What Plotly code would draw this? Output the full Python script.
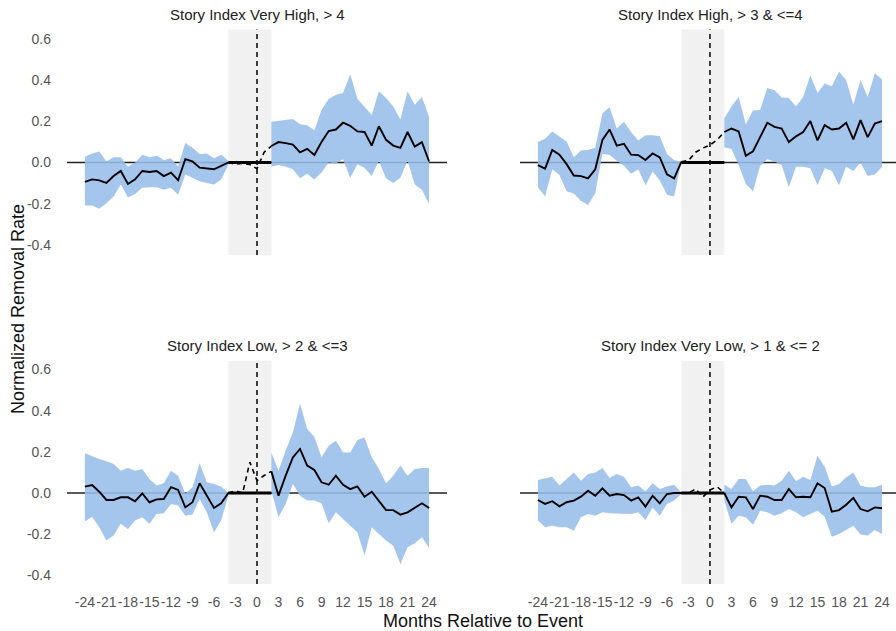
import plotly.graph_objects as go

# ---------------- data ----------------
months_pre = list(range(-24, -3))     # -24 .. -4
months_window = list(range(-4, 3))    # -4 .. 2
months_post = list(range(2, 25))      # 2 .. 24
tick_vals_x = list(range(-24, 25, 3))
tick_text_x = [str(v) for v in tick_vals_x]
tick_vals_y = [-0.4, -0.2, 0.0, 0.2, 0.4, 0.6]
tick_text_y = ["-0.4", "-0.2", "0.0", "0.2", "0.4", "0.6"]

titles = ["Story Index Very High, > 4", "Story Index High, > 3 & <=4",
          "Story Index Low, > 2 & <=3", "Story Index Very Low, > 1 & <= 2"]

# Panel 1: Very High
vh_est_pre = [-0.094, -0.082, -0.087, -0.099, -0.066, -0.041, -0.104, -0.082, -0.041, -0.046, -0.041,
              -0.066, -0.049, -0.086, 0.016, 0.005, -0.025, -0.030, -0.033, -0.016, 0.0]
vh_hi_pre = [0.028, 0.044, 0.054, 0.005, 0.025, 0.025, -0.021, 0.0, 0.038, 0.025, 0.033,
             0.012, 0.021, -0.021, 0.095, 0.071, 0.041, 0.044, 0.021, 0.038, 0.008]
vh_lo_pre = [-0.209, -0.209, -0.225, -0.198, -0.165, -0.107, -0.170, -0.153, -0.123, -0.120, -0.120,
             -0.132, -0.123, -0.156, -0.058, -0.074, -0.091, -0.099, -0.107, -0.082, -0.012]
vh_est_win = [0.0, -0.008, -0.005, -0.01, -0.03, 0.05, 0.08]
vh_est_post = [0.080, 0.099, 0.094, 0.087, 0.049, 0.066, 0.036, 0.099, 0.153, 0.160, 0.193, 0.178,
               0.151, 0.148, 0.082, 0.176, 0.110, 0.082, 0.071, 0.148, 0.077, 0.099, 0.005]
vh_hi_post = [0.198, 0.202, 0.206, 0.211, 0.186, 0.181, 0.156, 0.255, 0.308, 0.329, 0.337, 0.428,
              0.309, 0.272, 0.230, 0.346, 0.313, 0.272, 0.209, 0.346, 0.280, 0.318, 0.222]
vh_lo_post = [-0.021, -0.012, -0.021, -0.033, -0.077, -0.054, -0.082, -0.049, 0.0, -0.005, 0.016, -0.074,
              -0.008, -0.025, -0.066, 0.008, -0.077, -0.099, -0.074, 0.008, -0.107, -0.132, -0.202]

# Panel 2: High
h_est_pre = [-0.013, -0.030, 0.061, 0.038, -0.008, -0.063, -0.066, -0.077, -0.033, 0.110, 0.160,
             0.082, 0.091, 0.038, 0.036, 0.012, 0.044, 0.025, -0.058, -0.077, 0.003]
h_hi_pre = [0.099, 0.115, 0.151, 0.127, 0.102, 0.025, 0.058, 0.061, 0.071, 0.239, 0.268,
            0.165, 0.198, 0.148, 0.107, 0.132, 0.132, 0.127, 0.041, 0.012, 0.003]
h_lo_pre = [-0.120, -0.165, -0.033, -0.061, -0.140, -0.151, -0.186, -0.206, -0.148, 0.041, 0.036,
            0.008, -0.016, -0.054, -0.033, -0.110, -0.044, -0.087, -0.156, -0.165, 0.003]
h_est_win = [0.003, 0.01, 0.05, 0.07, 0.085, 0.11, 0.148]
h_est_post = [0.148, 0.165, 0.151, 0.033, 0.054, 0.123, 0.193, 0.173, 0.165, 0.099, 0.127, 0.148,
              0.201, 0.107, 0.181, 0.160, 0.165, 0.193, 0.112, 0.206, 0.123, 0.189, 0.201]
h_hi_post = [0.214, 0.272, 0.318, 0.186, 0.252, 0.255, 0.362, 0.351, 0.316, 0.313, 0.272, 0.318,
             0.423, 0.337, 0.383, 0.370, 0.440, 0.400, 0.280, 0.400, 0.318, 0.433, 0.403]
h_lo_post = [0.074, 0.066, -0.012, -0.104, -0.140, -0.016, 0.016, 0.005, -0.012, -0.120, -0.021, -0.021,
             -0.028, -0.110, -0.028, -0.041, -0.110, -0.021, -0.041, 0.0, -0.066, -0.058, -0.021]

# Panel 3: Low
l_est_pre = [0.031, 0.039, 0.006, -0.034, -0.034, -0.021, -0.021, -0.040, -0.002, -0.045, -0.031,
             -0.029, 0.028, 0.015, -0.070, -0.045, 0.047, -0.013, -0.073, -0.050, 0.0]
l_hi_pre = [0.193, 0.178, 0.165, 0.154, 0.141, 0.108, 0.121, 0.108, 0.117, 0.068, 0.036,
            0.047, 0.108, 0.084, -0.002, 0.028, 0.144, 0.052, 0.044, 0.031, 0.0]
l_lo_pre = [-0.138, -0.115, -0.167, -0.231, -0.207, -0.150, -0.175, -0.134, -0.118, -0.150, -0.102,
            -0.099, -0.053, -0.061, -0.110, -0.105, -0.029, -0.094, -0.191, -0.134, -0.013]
l_est_win = [0.0, 0.01, 0.0, 0.15, 0.06, 0.085, 0.105]
l_est_post = [0.105, -0.013, 0.084, 0.173, 0.214, 0.133, 0.112, 0.052, 0.040, 0.084, 0.040, 0.019,
              0.032, -0.018, 0.006, -0.040, -0.083, -0.083, -0.105, -0.094, -0.070, -0.050, -0.073]
l_hi_post = [0.197, 0.108, 0.206, 0.294, 0.435, 0.311, 0.273, 0.173, 0.230, 0.254, 0.197, 0.197,
             0.257, 0.270, 0.173, 0.117, 0.047, 0.084, 0.133, 0.084, 0.117, 0.121, 0.121]
l_lo_post = [0.011, -0.118, -0.053, 0.044, -0.013, -0.037, -0.037, -0.050, -0.147, -0.094, -0.126, -0.159,
             -0.191, -0.304, -0.167, -0.199, -0.231, -0.256, -0.345, -0.264, -0.244, -0.215, -0.267]

# Panel 4: Very Low
vl_est_pre = [-0.034, -0.053, -0.040, -0.065, -0.045, -0.037, -0.018, 0.011, -0.013, 0.023, -0.013,
              -0.005, -0.010, -0.037, -0.021, -0.066, -0.013, -0.050, -0.005, 0.0, 0.0]
vl_hi_pre = [0.063, 0.071, 0.079, 0.036, 0.068, 0.100, 0.060, 0.092, 0.100, 0.121, 0.073,
             0.092, 0.079, 0.028, 0.036, 0.008, 0.047, 0.019, 0.031, 0.040, 0.003]
vl_lo_pre = [-0.134, -0.167, -0.159, -0.167, -0.167, -0.183, -0.118, -0.102, -0.110, -0.094, -0.099,
             -0.102, -0.102, -0.102, -0.094, -0.131, -0.070, -0.110, -0.053, -0.037, -0.005]
vl_est_win = [0.0, 0.0, 0.02, -0.02, 0.015, 0.03, 0.0]
vl_est_post = [0.0, -0.070, -0.018, -0.021, -0.078, -0.013, -0.018, -0.034, -0.034, 0.019, -0.021, -0.018,
               -0.021, 0.047, 0.024, -0.091, -0.083, -0.057, -0.024, -0.078, -0.089, -0.070, -0.074]
vl_hi_post = [0.040, 0.019, 0.068, 0.068, 0.008, 0.036, 0.040, 0.036, 0.060, 0.108, 0.057, 0.079,
              0.063, 0.181, 0.128, 0.031, 0.044, 0.076, 0.100, 0.036, 0.028, 0.028, 0.040]
vl_lo_post = [-0.037, -0.150, -0.110, -0.118, -0.154, -0.086, -0.094, -0.110, -0.099, -0.078, -0.094, -0.118,
              -0.102, -0.086, -0.115, -0.212, -0.199, -0.180, -0.159, -0.202, -0.207, -0.180, -0.199]

window_start = -4
window_end = 2

panels = [
    (vh_est_pre, vh_hi_pre, vh_lo_pre, vh_est_win, vh_est_post, vh_hi_post, vh_lo_post),
    (h_est_pre, h_hi_pre, h_lo_pre, h_est_win, h_est_post, h_hi_post, h_lo_post),
    (l_est_pre, l_hi_pre, l_lo_pre, l_est_win, l_est_post, l_hi_post, l_lo_post),
    (vl_est_pre, vl_hi_pre, vl_lo_pre, vl_est_win, vl_est_post, vl_hi_post, vl_lo_post),
]

# ---------------- layout geometry ----------------
W, H = 896, 631
FONT = "Liberation Sans, Arial, sans-serif"
BAND = "rgba(153,190,233,0.88)"
GRAY = "#f1f1f1"

x_dom_left = [67 / W, 447 / W]
x_dom_right = [520 / W, 1.0]
x_range_left = [-26.5, 26.5]
x_range_right = [-26.5, 25.95]
y_dom_top = [1 - 255 / H, 1 - 29.5 / H]
y_dom_bot = [1 - 584 / H, 1 - 361 / H]
y_range_top = [-0.449, 0.6456]
y_range_bot = [-0.442, 0.641]

fig = go.Figure()

for i, (ep, hp, lp, ew, eo, ho, lo) in enumerate(panels):
    n = i + 1
    xa = "x" if n == 1 else f"x{n}"
    ya = "y" if n == 1 else f"y{n}"
    # confidence bands
    for xs, hi, low in ((months_pre, hp, lp), (months_post, ho, lo)):
        fig.add_trace(go.Scatter(x=xs + xs[::-1], y=hi + low[::-1], fill="toself",
                                 fillcolor=BAND, line=dict(width=0), mode="lines",
                                 hoverinfo="skip", showlegend=False, xaxis=xa, yaxis=ya))
    # window dashed estimate
    fig.add_trace(go.Scatter(x=months_window, y=ew, mode="lines",
                             line=dict(color="black", width=1.6, dash="5px,4px"),
                             showlegend=False, xaxis=xa, yaxis=ya))
    # estimate lines
    for xs, est in ((months_pre, ep), (months_post, eo)):
        fig.add_trace(go.Scatter(x=xs, y=est, mode="lines",
                                 line=dict(color="black", width=1.9),
                                 showlegend=False, xaxis=xa, yaxis=ya))

shapes = []
for n in range(1, 5):
    xa = "x" if n == 1 else f"x{n}"
    ya = "y" if n == 1 else f"y{n}"
    shapes.append(dict(type="rect", xref=xa, yref=f"{ya} domain", x0=window_start, x1=window_end,
                       y0=0, y1=1, fillcolor=GRAY, line=dict(width=0), layer="below"))
    shapes.append(dict(type="line", xref=f"{xa} domain", yref=ya, x0=0, x1=1, y0=0, y1=0,
                       line=dict(color="#222222", width=1.5), layer="below"))
    shapes.append(dict(type="line", xref=xa, yref=ya, x0=window_start, x1=window_end, y0=0, y1=0,
                       line=dict(color="black", width=3), layer="above"))
    shapes.append(dict(type="line", xref=xa, yref=f"{ya} domain", x0=0, x1=0, y0=0, y1=1,
                       line=dict(color="#111111", width=1.6, dash="5px,4px"), layer="above"))

tickfont = dict(family=FONT, size=14, color="#555555")
common_x = dict(showgrid=False, zeroline=False, showline=False, tickvals=tick_vals_x,
                ticktext=tick_text_x, ticks="", tickfont=tickfont, ticklabelstandoff=8,
                tickangle=0)
common_y = dict(showgrid=False, zeroline=False, showline=False, tickvals=tick_vals_y,
                ticktext=tick_text_y, ticks="", tickfont=tickfont)

layout = dict(
    width=W, height=H, margin=dict(l=0, r=0, t=0, b=0),
    paper_bgcolor="white", plot_bgcolor="white", showlegend=False,
    xaxis=dict(common_x, domain=x_dom_left, range=x_range_left, anchor="y", showticklabels=False),
    xaxis2=dict(common_x, domain=x_dom_right, range=x_range_right, anchor="y2", showticklabels=False),
    xaxis3=dict(common_x, domain=x_dom_left, range=x_range_left, anchor="y3"),
    xaxis4=dict(common_x, domain=x_dom_right, range=x_range_right, anchor="y4"),
    yaxis=dict(common_y, domain=y_dom_top, range=y_range_top, anchor="x", ticklabelstandoff=15),
    yaxis2=dict(common_y, domain=y_dom_top, range=y_range_top, anchor="x2", showticklabels=False),
    yaxis3=dict(common_y, domain=y_dom_bot, range=y_range_bot, anchor="x3", ticklabelstandoff=15),
    yaxis4=dict(common_y, domain=y_dom_bot, range=y_range_bot, anchor="x4", showticklabels=False),
    shapes=shapes,
)
fig.update_layout(**layout)

title_font = dict(family=FONT, size=15, color="#222222")
title_pos = [(257 / W, 1 - 15 / H), (710 / W, 1 - 15 / H), (257 / W, 1 - 345 / H), (710 / W, 1 - 345 / H)]
for t, (px, py) in zip(titles, title_pos):
    fig.add_annotation(text=t, x=px, y=py, xref="paper", yref="paper", showarrow=False,
                       xanchor="center", yanchor="middle", font=title_font)

fig.add_annotation(text="Months Relative to Event", x=483 / W, y=1 - 621 / H, xref="paper", yref="paper",
                   showarrow=False, xanchor="center", yanchor="middle",
                   font=dict(family=FONT, size=18, color="#111111"))
fig.add_annotation(text="Normalized Removal Rate", x=18 / W, y=1 - 309 / H, xref="paper", yref="paper",
                   showarrow=False, xanchor="center", yanchor="middle", textangle=-90,
                   font=dict(family=FONT, size=18, color="#111111"))

fig.write_html("out.html", config={"displayModeBar": False},
               post_script="document.body.style.margin='0px';document.body.style.overflow='hidden';")
